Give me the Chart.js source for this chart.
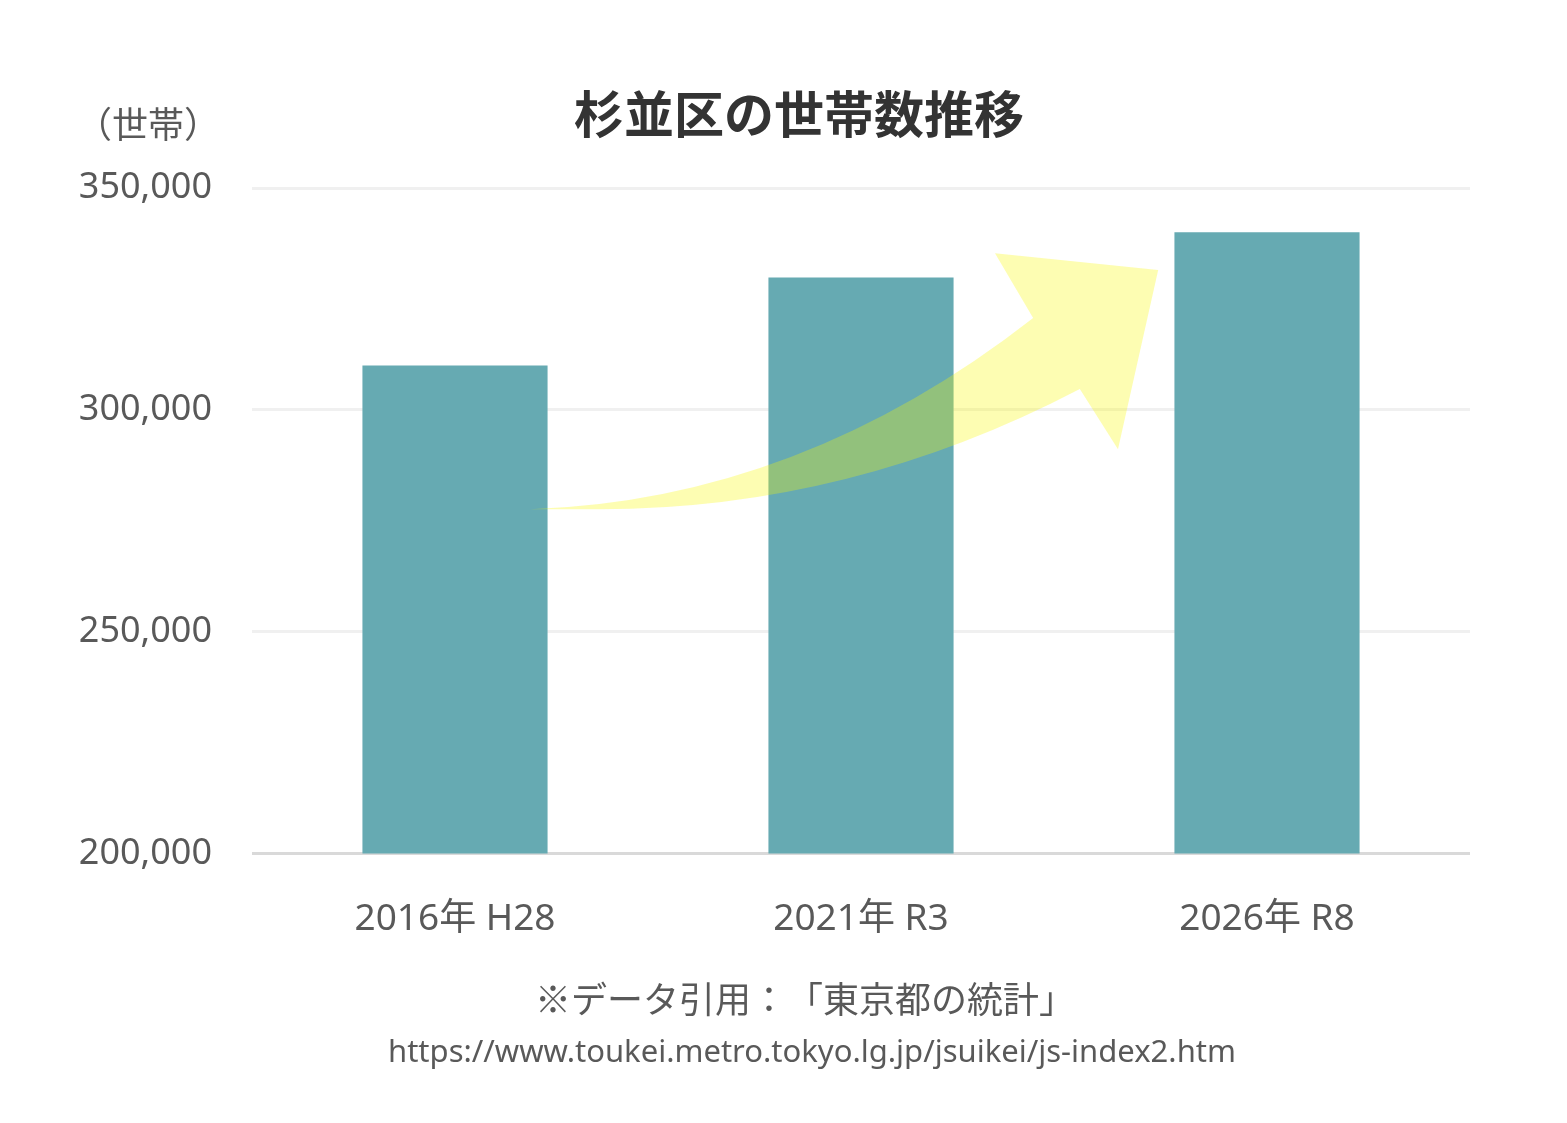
<!DOCTYPE html>
<html lang="ja">
<head>
<meta charset="utf-8">
<title>杉並区の世帯数推移</title>
<script src="https://cdn.jsdelivr.net/npm/chart.js@4.4.1/dist/chart.umd.min.js"></script>
<style>
    html, body { margin: 0; padding: 0; background: #ffffff; }
    #wrap { position: relative; width: 1567px; height: 1123px; overflow: hidden; }
    #wrap canvas { position: absolute; left: 0; top: 0; }
    .txt { position: absolute; white-space: nowrap; line-height: 1; color: #595959; font-family: "Noto Sans CJK JP", "Noto Sans", sans-serif; text-spacing-trim: space-all; }
    #title { left: 799px; top: 86px; transform: translateX(-50%); font-size: 50px; font-weight: bold; color: #333333; }
    #unit { left: 76px; top: 104px; font-size: 36px; }
    #source { left: 805px; top: 979px; transform: translateX(-50%); font-size: 36px; }
    #url { left: 812px; top: 1035px; transform: translateX(-50%); font-size: 31px; font-family: "Noto Sans", sans-serif; }
</style>
</head>
<body>
<div id="wrap">
    <canvas id="householdChart" width="1567" height="1123"></canvas>
    <div class="txt" id="title">杉並区の世帯数推移</div>
    <div class="txt" id="unit">（世帯）</div>
    <div class="txt" id="source">※データ引用：「東京都の統計」</div>
    <div class="txt" id="url">https://www.toukei.metro.tokyo.lg.jp/jsuikei/js-index2.htm</div>
</div>
<script>
// データ
const years = ['2016年 H28', '2021年 R3', '2026年 R8'];
const households = [310000, 329800, 340000];
const yTicks = [200000, 250000, 300000, 350000];

// 矢印の形（カテゴリ位置, 世帯数）
const arrowTail = [0.185, 277600];
const arrowUpperCtrl = [0.85, 279600];
const arrowNotchUpper = [1.424, 320700];
const arrowBarbUpper = [1.33, 335300];
const arrowTip = [1.732, 331500];
const arrowBarbLower = [1.633, 291100];
const arrowNotchLower = [1.539, 304700];
const arrowLowerCtrl = [0.973, 277600];
const arrowLowerEnd = [0.357, 277600];

const arrowPlugin = {
    id: 'trendArrow',
    afterDatasetsDraw(chart) {
        const x = chart.scales.x;
        const y = chart.scales.y;
        const step = x.getPixelForValue(1) - x.getPixelForValue(0);
        const p = (pt) => [x.getPixelForValue(0) + pt[0] * step, y.getPixelForValue(pt[1])];
        const ctx = chart.ctx;
        const t = p(arrowTail), cu = p(arrowUpperCtrl), nu = p(arrowNotchUpper);
        const bu = p(arrowBarbUpper), tip = p(arrowTip), bl = p(arrowBarbLower);
        const nl = p(arrowNotchLower), cl = p(arrowLowerCtrl), le = p(arrowLowerEnd);
        ctx.save();
        ctx.beginPath();
        ctx.moveTo(t[0], t[1]);
        ctx.quadraticCurveTo(cu[0], cu[1], nu[0], nu[1]);
        ctx.lineTo(bu[0], bu[1]);
        ctx.lineTo(tip[0], tip[1]);
        ctx.lineTo(bl[0], bl[1]);
        ctx.lineTo(nl[0], nl[1]);
        ctx.quadraticCurveTo(cl[0], cl[1], le[0], le[1]);
        ctx.closePath();
        ctx.fillStyle = 'rgba(250, 250, 0, 0.3)';
        ctx.fill();
        ctx.restore();
    }
};

const ctx = document.getElementById('householdChart');
new Chart(ctx, {
    type: 'bar',
    data: {
        labels: years,
        datasets: [{
            label: '世帯数',
            data: households,
            backgroundColor: '#66AAB2',
            borderWidth: 0,
            barPercentage: 0.456,
            categoryPercentage: 1
        }]
    },
    options: {
        responsive: false,
        animation: false,
        layout: {
            padding: { left: 0, right: 97, top: 188, bottom: 0 }
        },
        plugins: {
            legend: { display: false },
            tooltip: { enabled: false }
        },
        scales: {
            x: {
                afterFit: (scale) => { scale.height = 269.5; },
                grid: { display: false },
                border: { display: false },
                ticks: {
                    padding: 36,
                    color: '#595959',
                    font: { family: '"Noto Sans", "Noto Sans CJK JP", sans-serif', size: 37 }
                }
            },
            y: {
                min: 200000,
                max: 350000,
                afterFit: (scale) => { scale.width = 252; },
                afterBuildTicks: (scale) => { scale.ticks = yTicks.map(v => ({ value: v })); },
                border: { display: false },
                grid: {
                    drawTicks: false,
                    lineWidth: 3,
                    color: function(context) {
                        if (context.tick && context.tick.value === 200000) {
                            return '#d9d9d9';
                        }
                        return '#f0f0f0';
                    }
                },
                ticks: {
                    padding: 40,
                    color: '#595959',
                    font: { family: '"Noto Sans", sans-serif', size: 36 },
                    callback: function(value) {
                        return new Intl.NumberFormat('en-US').format(value);
                    }
                }
            }
        }
    },
    plugins: [arrowPlugin]
});
</script>
</body>
</html>
